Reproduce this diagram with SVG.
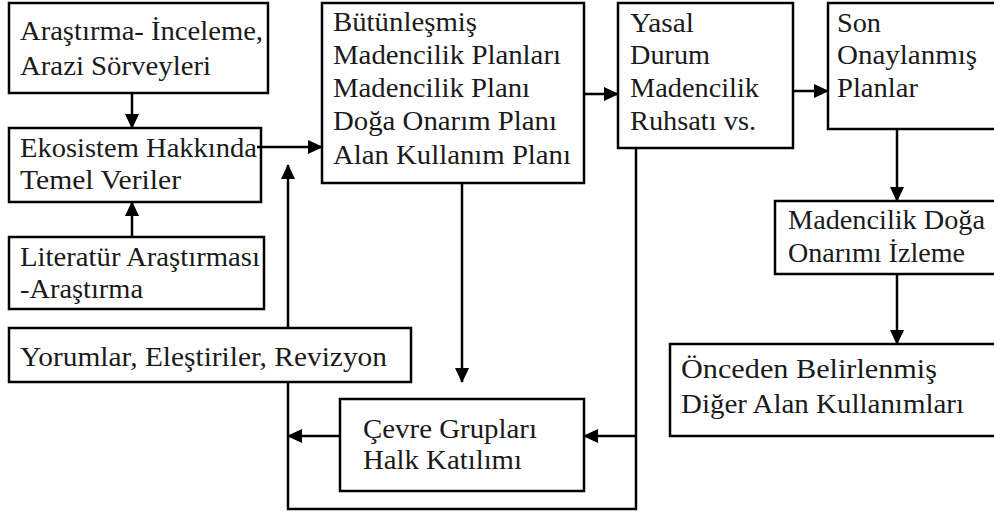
<svg xmlns="http://www.w3.org/2000/svg" width="994" height="514" viewBox="0 0 994 514">
<style>
.box{fill:#fff;stroke:#000;stroke-width:2.5}
.t{font-family:"Liberation Serif","Times New Roman",serif;font-size:27px;fill:#1a1a1a}
.c{fill:none;stroke:#000;stroke-width:2.5}
</style>
<defs>
<marker id="ah" markerUnits="userSpaceOnUse" markerWidth="15" markerHeight="14" refX="14" refY="7" orient="auto">
<path d="M0,0 L15,7 L0,14 z" fill="#000"/>
</marker>
</defs>
<rect width="994" height="514" fill="#fff"/>
<g id="n1">
<rect class="box" x="9" y="3" width="259" height="90"/>
<text class="t" x="20" y="40" textLength="243" lengthAdjust="spacingAndGlyphs">Araştırma- İnceleme,</text>
<text class="t" x="20" y="75" textLength="191" lengthAdjust="spacingAndGlyphs">Arazi Sörveyleri</text>
</g>
<g id="n2">
<rect class="box" x="9" y="128" width="252" height="74"/>
<text class="t" x="20" y="157" textLength="237" lengthAdjust="spacingAndGlyphs">Ekosistem Hakkında</text>
<text class="t" x="20" y="189" textLength="161" lengthAdjust="spacingAndGlyphs">Temel Veriler</text>
</g>
<g id="n3">
<rect class="box" x="9" y="237" width="255" height="72"/>
<text class="t" x="20" y="266" textLength="240" lengthAdjust="spacingAndGlyphs">Literatür Araştırması</text>
<text class="t" x="20" y="298" textLength="123" lengthAdjust="spacingAndGlyphs">-Araştırma</text>
</g>
<g id="n4">
<rect class="box" x="9" y="328" width="402" height="54"/>
<text class="t" x="20" y="366" textLength="367" lengthAdjust="spacingAndGlyphs">Yorumlar, Eleştiriler, Revizyon</text>
</g>
<g id="n5">
<rect class="box" x="322" y="3" width="262" height="180"/>
<text class="t" x="333" y="31" textLength="144" lengthAdjust="spacingAndGlyphs">Bütünleşmiş</text>
<text class="t" x="333" y="64" textLength="228" lengthAdjust="spacingAndGlyphs">Madencilik Planları</text>
<text class="t" x="333" y="97" textLength="197" lengthAdjust="spacingAndGlyphs">Madencilik Planı</text>
<text class="t" x="333" y="130" textLength="224" lengthAdjust="spacingAndGlyphs">Doğa Onarım Planı</text>
<text class="t" x="333" y="164" textLength="238" lengthAdjust="spacingAndGlyphs">Alan Kullanım Planı</text>
</g>
<g id="n6">
<rect class="box" x="618" y="3" width="175" height="145"/>
<text class="t" x="630" y="32" textLength="64" lengthAdjust="spacingAndGlyphs">Yasal</text>
<text class="t" x="630" y="64" textLength="80" lengthAdjust="spacingAndGlyphs">Durum</text>
<text class="t" x="630" y="97" textLength="129" lengthAdjust="spacingAndGlyphs">Madencilik</text>
<text class="t" x="630" y="130" textLength="126" lengthAdjust="spacingAndGlyphs">Ruhsatı vs.</text>
</g>
<g id="n7">
<rect class="box" x="828" y="3" width="180" height="126"/>
<text class="t" x="837" y="32" textLength="44" lengthAdjust="spacingAndGlyphs">Son</text>
<text class="t" x="837" y="64" textLength="140" lengthAdjust="spacingAndGlyphs">Onaylanmış</text>
<text class="t" x="837" y="97" textLength="81" lengthAdjust="spacingAndGlyphs">Planlar</text>
</g>
<g id="n8">
<rect class="box" x="775" y="201" width="233" height="73"/>
<text class="t" x="788" y="229" textLength="197" lengthAdjust="spacingAndGlyphs">Madencilik Doğa</text>
<text class="t" x="788" y="262" textLength="177" lengthAdjust="spacingAndGlyphs">Onarımı İzleme</text>
</g>
<g id="n9">
<rect class="box" x="670" y="344" width="338" height="92"/>
<text class="t" x="681" y="378" textLength="256" lengthAdjust="spacingAndGlyphs">Önceden Belirlenmiş</text>
<text class="t" x="681" y="413" textLength="283" lengthAdjust="spacingAndGlyphs">Diğer Alan Kullanımları</text>
</g>
<g id="n10">
<rect class="box" x="340" y="399" width="244" height="92"/>
<text class="t" x="363" y="438" textLength="174" lengthAdjust="spacingAndGlyphs">Çevre Grupları</text>
<text class="t" x="363" y="469" textLength="159" lengthAdjust="spacingAndGlyphs">Halk Katılımı</text>
</g>
<g id="connectors">
<line class="c" x1="132" y1="93" x2="132" y2="128" marker-end="url(#ah)"/>
<line class="c" x1="132" y1="237" x2="132" y2="202" marker-end="url(#ah)"/>
<line class="c" x1="257" y1="147" x2="322" y2="147" marker-end="url(#ah)"/>
<line class="c" x1="288" y1="328" x2="288" y2="165" marker-end="url(#ah)"/>
<line class="c" x1="584" y1="94" x2="618" y2="94" marker-end="url(#ah)"/>
<line class="c" x1="793" y1="91" x2="828" y2="91" marker-end="url(#ah)"/>
<line class="c" x1="897" y1="129" x2="897" y2="201" marker-end="url(#ah)"/>
<line class="c" x1="897" y1="274" x2="897" y2="344" marker-end="url(#ah)"/>
<line class="c" x1="462" y1="183" x2="462" y2="382" marker-end="url(#ah)"/>
<polyline class="c" points="636,148 636,509 288,509 288,382"/>
<line class="c" x1="636" y1="436" x2="584" y2="436" marker-end="url(#ah)"/>
<line class="c" x1="340" y1="436" x2="288" y2="436" marker-end="url(#ah)"/>
</g>
</svg>
